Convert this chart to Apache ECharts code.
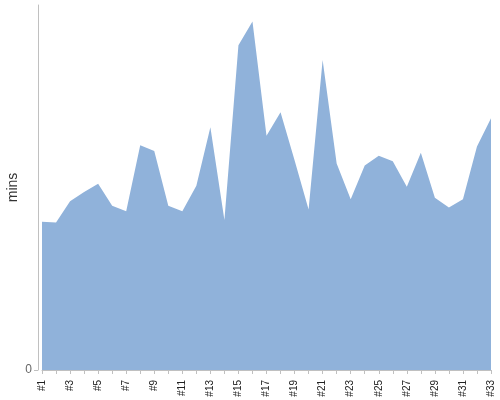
<!DOCTYPE html>
<html>
<head>
<meta charset="utf-8">
<script src="https://cdn.jsdelivr.net/npm/echarts@6/dist/echarts.min.js"></script>
<style>html,body{margin:0;padding:0;background:#fff}#c{width:500px;height:400px}</style>
</head>
<body>
<div id="c"></div>
<script>
var categories = [];
for (var i = 1; i <= 33; i++) categories.push('#' + i);
var values = [40.6, 40.4, 46.2, 48.8, 51.0, 45.0, 43.5, 61.6, 60.0, 45.0, 43.5, 50.5, 66.5, 41.1, 89.0, 95.5, 64.2, 70.6, 57.5, 44.0, 84.9, 56.6, 46.8, 56.0, 58.7, 57.2, 50.2, 59.5, 47.2, 44.5, 46.8, 61.2, 69.0];
var yMax = 100;
var yTicks = [0];
var yName = 'mins';

var chart = echarts.init(document.getElementById('c'), null, {renderer: 'canvas'});
chart.setOption({
  animation: false,
  grid: {left: 42, right: 9, top: 5, bottom: 30, outerBoundsMode: 'none', containLabel: false},
  xAxis: {
    type: 'category',
    data: categories,
    boundaryGap: false,
    offset: 3,
    axisLine: {lineStyle: {color: '#c0c0c0'}},
    axisTick: {show: true, interval: 0, length: 4, lineStyle: {color: '#c0c0c0'}},
    axisLabel: {rotate: 90, interval: 1, margin: 7, fontSize: 10, color: '#222', fontFamily: 'Liberation Sans'}
  },
  yAxis: {
    type: 'value',
    min: 0,
    max: yMax,
    offset: 4,
    name: yName,
    nameLocation: 'middle',
    nameGap: 18,
    nameMoveOverlap: false,
    nameRotate: 90,
    nameTextStyle: {fontSize: 14, color: '#333', fontFamily: 'Liberation Sans'},
    splitLine: {show: false},
    axisLine: {show: true, lineStyle: {color: '#c0c0c0'}},
    axisTick: {show: true, length: 4, customValues: yTicks, lineStyle: {color: '#c0c0c0'}},
    axisLabel: {customValues: yTicks, margin: 6, fontSize: 12, color: '#666', fontFamily: 'Liberation Sans'}
  },
  series: [{
    type: 'line',
    data: values,
    symbol: 'none',
    lineStyle: {width: 0, color: '#90b2da'},
    itemStyle: {color: '#90b2da'},
    areaStyle: {color: '#90b2da', opacity: 1}
  }]
});
</script>
</body>
</html>
